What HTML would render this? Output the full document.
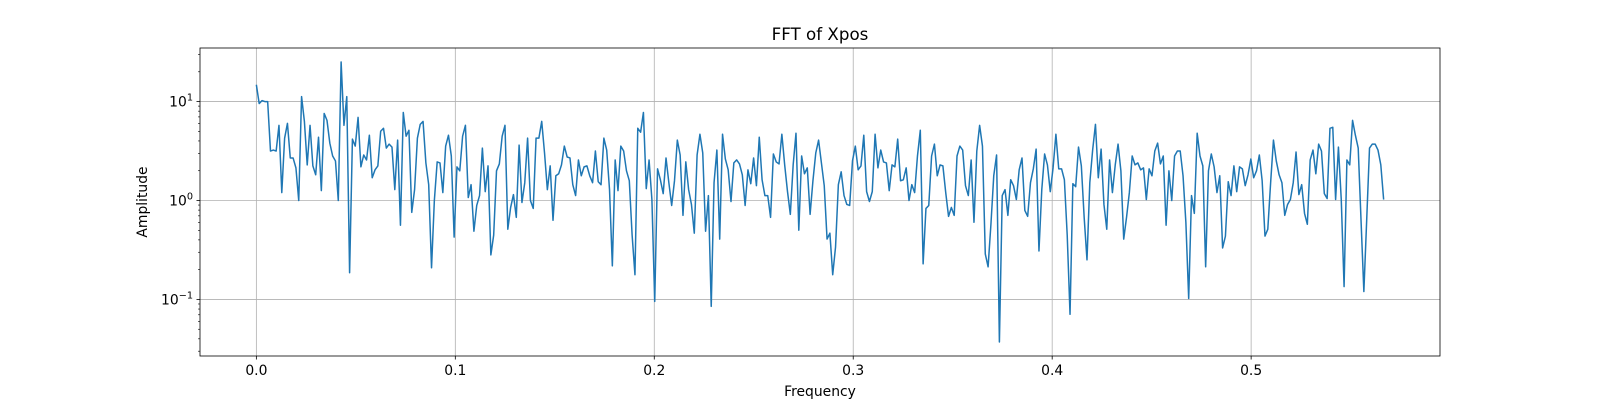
<!DOCTYPE html>
<html><head><meta charset="utf-8"><style>
html,body{margin:0;padding:0;background:#fff;}
svg{display:block;font-family:"DejaVu Sans","Liberation Sans",sans-serif;}
</style></head><body>
<svg id="chart" width="1600" height="400" viewBox="0 0 1600 400">
<rect width="1600" height="400" fill="#fff"/>
<text x="820" y="40" text-anchor="middle" font-size="16.7" fill="#000">FFT of Xpos</text>
<text x="820" y="396" text-anchor="middle" font-size="13.9" fill="#000">Frequency</text>
<text x="0" y="0" transform="translate(147,202) rotate(-90)" text-anchor="middle" font-size="13.9" fill="#000">Amplitude</text>
<g id="grid"></g>
<g id="series"></g>
<g id="axes"></g>
</svg>
<script>
// log10 of FFT amplitude, sampled on a uniform frequency grid from 0 to maxFreq
const logAmplitude = [
1.17,0.98,1.01,1.0,1.0,0.5,0.51,0.5,0.76,0.08,0.63,0.78,0.43,0.43,0.33,0.0,1.05,0.8,0.36,0.76,0.35,0.26,0.64,0.1,0.88,0.81,0.58,0.45,0.4,0.0,1.4,0.76,1.05,-0.73,0.62,0.55,0.84,0.34,0.46,0.41,0.66,0.23,0.31,0.35,0.7,0.73,0.53,0.57,0.54,0.11,0.61,-0.25,0.89,0.65,0.71,-0.12,0.11,0.63,0.77,0.8,0.38,0.16,-0.68,0.0,
0.39,0.38,0.08,0.55,0.66,0.45,-0.37,0.34,0.3,0.65,0.76,0.03,0.16,-0.31,-0.05,0.05,0.53,0.09,0.35,-0.55,-0.35,0.3,0.37,0.65,0.76,-0.29,-0.07,0.06,-0.17,0.56,-0.02,0.18,0.63,0.0,-0.08,0.63,0.63,0.8,0.48,0.11,0.35,-0.2,0.25,0.27,0.36,0.55,0.44,0.43,0.16,0.05,0.41,0.25,0.34,0.35,0.25,0.18,0.5,0.19,0.16,0.63,0.51,0.11,-0.66,0.41,0.1,
0.55,0.5,0.3,0.2,-0.35,-0.75,0.73,0.69,0.89,0.12,0.41,0.01,-1.02,0.32,0.21,0.07,0.43,0.18,-0.05,0.2,0.61,0.46,-0.15,0.39,0.11,-0.04,-0.33,0.46,0.67,0.48,-0.31,0.05,-1.07,0.18,0.51,-0.39,0.67,0.42,0.31,-0.01,0.38,0.41,0.37,0.26,-0.05,0.31,0.17,0.43,0.15,0.64,0.21,0.05,0.05,-0.17,0.47,0.39,0.37,0.67,0.36,0.09,-0.14,0.36,0.68,-0.3,0.45,
0.27,0.33,-0.14,0.2,0.48,0.61,0.38,0.15,-0.39,-0.33,-0.75,-0.47,0.16,0.29,0.05,-0.04,-0.05,0.4,0.55,0.31,0.35,0.66,0.09,-0.01,0.09,0.67,0.33,0.51,0.39,0.38,0.1,0.36,0.34,0.62,0.2,0.21,0.33,0.0,0.16,0.08,0.45,0.71,-0.64,-0.08,-0.05,0.45,0.57,0.25,0.36,0.35,0.08,-0.16,-0.07,-0.15,0.45,0.55,0.51,0.15,0.05,0.41,-0.22,0.5,0.76,0.55,-0.54,-0.67,
-0.24,0.25,0.46,-1.43,0.05,0.11,-0.15,0.21,0.15,0.01,0.31,0.43,-0.1,-0.16,0.18,0.32,0.52,-0.51,0.11,0.47,0.36,0.09,0.33,0.67,0.32,0.32,0.21,-0.35,-1.15,0.17,0.14,0.54,0.35,-0.17,-0.6,0.18,0.51,0.77,0.23,0.52,-0.04,-0.29,0.41,0.08,0.36,0.57,0.3,-0.39,-0.17,0.08,0.45,0.36,0.38,0.31,0.33,0.01,0.32,0.25,0.5,0.58,0.37,0.45,-0.25,0.3,0.0,0.45,
0.5,0.5,0.25,-0.22,-0.99,0.05,-0.13,0.68,0.45,0.35,-0.67,0.3,0.47,0.34,0.08,0.25,-0.48,-0.36,0.19,0.05,0.35,0.09,0.34,0.32,0.15,0.26,0.42,0.23,0.3,0.46,0.2,-0.36,-0.29,0.18,0.61,0.4,0.26,0.18,-0.15,-0.04,0.01,0.18,0.49,0.06,0.16,-0.13,-0.24,0.41,0.51,0.27,0.57,0.5,0.07,0.02,0.73,0.74,0.01,0.54,0.01,-0.87,0.41,0.36,0.81,0.66,0.53,-0.2,-0.92,-0.2,0.53,0.57,0.57,0.51,0.36,0.01
];
const maxFreq = 0.5666;
const xTickValues = [0.0, 0.1, 0.2, 0.3, 0.4, 0.5];
const xTickLabels = ["0.0", "0.1", "0.2", "0.3", "0.4", "0.5"];
const yTickExponents = [-1, 0, 1];
const yTickLabels = ["10", "10", "10"];
const yTickSups = ["\u22121", "0", "1"];

const NS = "http://www.w3.org/2000/svg";
const L = 200, R = 1440, T = 48, B = 356;
const freqs = logAmplitude.map((_, i) => i * maxFreq / (logAmplitude.length - 1));
const fMin = Math.min(...freqs), fMax = Math.max(...freqs);
const fPad = (fMax - fMin) * 0.05;
const x0 = fMin - fPad, x1 = fMax + fPad;
const lMin = Math.min(...logAmplitude), lMax = Math.max(...logAmplitude);
const lPad = (lMax - lMin) * 0.05;
const y0 = lMin - lPad, y1 = lMax + lPad;
function xs(f){ return L + (f - x0) / (x1 - x0) * (R - L); }
function ys(lg){ return B - (lg - y0) / (y1 - y0) * (B - T); }
function mk(tag, attrs, parent){ const e = document.createElementNS(NS, tag); for (const k in attrs) e.setAttribute(k, attrs[k]); parent.appendChild(e); return e; }

const grid = document.getElementById("grid");
const axes = document.getElementById("axes");
const series = document.getElementById("series");

xTickValues.forEach((v, i) => {
  const x = xs(v);
  const g = mk("line", {x1:x, x2:x, y1:T, y2:B, stroke:"#b0b0b0", "stroke-width":0.8}, grid);
  
  
  const t = mk("line", {x1:x, x2:x, y1:B, y2:B+3.5, stroke:"#000", "stroke-width":0.8}, axes);
  
  
  const lb = mk("text", {x:x, y:B+19, "text-anchor":"middle", "font-size":13.9, fill:"#000"}, axes);
  lb.textContent = xTickLabels[i];
  
  
});

yTickExponents.forEach((e, i) => {
  const y = ys(e);
  const g = mk("line", {x1:L, x2:R, y1:y, y2:y, stroke:"#b0b0b0", "stroke-width":0.8}, grid);
  
  
  const t = mk("line", {x1:L-3.5, x2:L, y1:y, y2:y, stroke:"#000", "stroke-width":0.8}, axes);
  
  
  const lb = mk("text", {x:L-7, y:y+5, "text-anchor":"end", "font-size":13.9, fill:"#000"}, axes);
  const base = document.createElementNS(NS, "tspan"); base.textContent = yTickLabels[i]; lb.appendChild(base);
  const sup = document.createElementNS(NS, "tspan"); sup.setAttribute("dy", "-6"); sup.setAttribute("font-size", "9.7"); sup.textContent = yTickSups[i]; lb.appendChild(sup);
  
  
});
for (let d = -3; d <= 2; d++) {
  for (let k = 2; k <= 9; k++) {
    const lg = d + Math.log10(k);
    if (lg < y0 || lg > y1) continue;
    const y = ys(lg);
    const m = mk("line", {x1:L-2, x2:L, y1:y, y2:y, stroke:"#000", "stroke-width":0.6}, axes);
    
    
  }
}
const frame = mk("rect", {x:L, y:T, width:R-L, height:B-T, fill:"none", stroke:"#000", "stroke-width":0.8}, axes);



const pts = logAmplitude.map((lg, i) => xs(freqs[i]).toFixed(2) + "," + ys(lg).toFixed(2)).join(" ");
const line = mk("polyline", {points:pts, fill:"none", stroke:"#1f77b4", "stroke-width":1.5, "stroke-linejoin":"round"}, series);


</script>
</body></html>
